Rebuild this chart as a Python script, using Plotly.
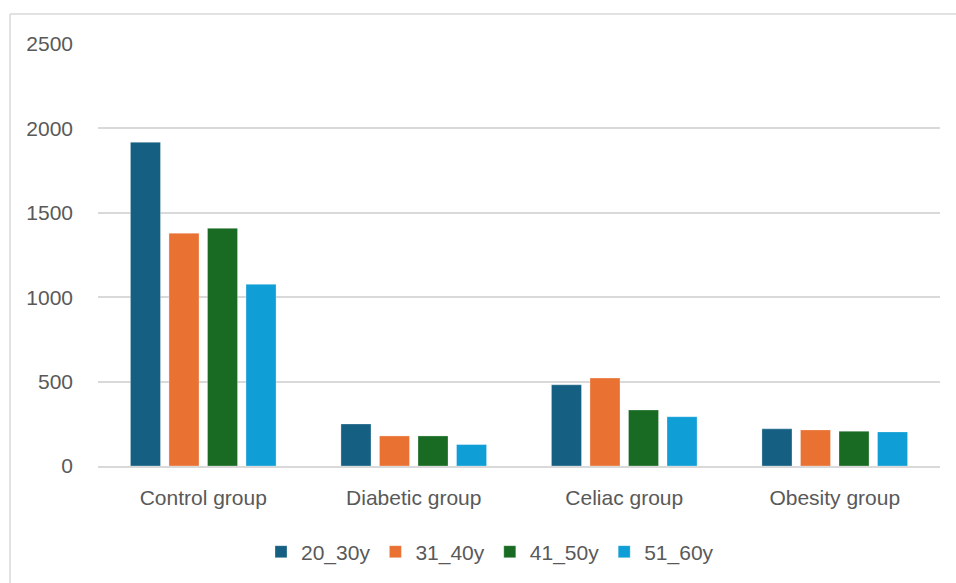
import plotly.graph_objects as go

# Groups on the x axis and the age bands shown as series
groups = ["Control group", "Diabetic group", "Celiac group", "Obesity group"]
series_names = ["20_30y", "31_40y", "41_50y", "51_60y"]

v_20_30y = [1918, 249, 481, 220]
v_31_40y = [1379, 178, 521, 214]
v_41_50y = [1408, 178, 332, 206]
v_51_60y = [1076, 127, 292, 202]

y_ticks = [0, 500, 1000, 1500, 2000, 2500]

series_values = [v_20_30y, v_31_40y, v_41_50y, v_51_60y]
colors = ["#156082", "#E97132", "#196B24", "#0F9ED5"]

W, H = 956, 583
L, R, T, B = 98, 16, 44, 116
FONT = "Liberation Sans"
FS = 21
TXT = "#595959"
GRID = "#D9D9D9"

fig = go.Figure()
for name, vals, col in zip(series_names, series_values, colors):
    fig.add_trace(go.Bar(
        x=groups, y=vals, name=name,
        marker=dict(color=col, line=dict(color="rgba(255,255,255,0.5)", width=0.6)),
    ))

pw = W - L - R
ph = H - T - B

def px_x(p):
    return (p - L) / pw

def px_y(p):
    return (H - B - p) / ph

# Outer chart frame (top and left edges visible)
fig.add_shape(type="line", xref="paper", yref="paper",
              x0=px_x(10), x1=px_x(W + 5), y0=px_y(14), y1=px_y(14),
              line=dict(color=GRID, width=1.5))
fig.add_shape(type="line", xref="paper", yref="paper",
              x0=px_x(10), x1=px_x(10), y0=px_y(14), y1=px_y(H + 5),
              line=dict(color=GRID, width=1.5))

fig.update_layout(
    width=W, height=H,
    margin=dict(l=L, r=R, t=T, b=B, pad=0),
    paper_bgcolor="white", plot_bgcolor="white",
    barmode="group", bargap=0.268, bargroupgap=0.22,
    font=dict(family=FONT, size=FS, color=TXT),
    showlegend=True,
    legend=dict(orientation="h", x=px_x(490), xanchor="center",
                y=px_y(552), yanchor="middle",
                font=dict(family=FONT, size=FS, color=TXT),
                traceorder="normal"),
    xaxis=dict(showgrid=False, showline=True, linecolor=GRID, linewidth=1.5,
               ticks="", ticklabelstandoff=12,
               tickfont=dict(family=FONT, size=FS, color=TXT)),
    yaxis=dict(range=[0, 2500], tickvals=y_ticks, showgrid=True,
               gridcolor=GRID, gridwidth=1.5, zeroline=False,
               showline=False, ticks="", ticklabelstandoff=24,
               tickfont=dict(family=FONT, size=FS, color=TXT)),
)

fig.write_html("out.html")
